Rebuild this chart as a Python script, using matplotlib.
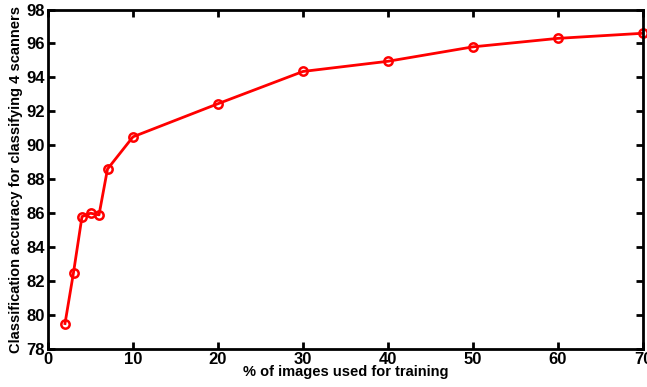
import matplotlib
matplotlib.use('Agg')
import matplotlib.pyplot as plt

# Training percentage vs accuracy
train_pct = [2, 3, 4, 5, 6, 7, 10, 20, 30, 40, 50, 60, 70]
accuracy = [79.5, 82.5, 85.8, 86.0, 85.9, 88.6, 90.5, 92.45, 94.35, 94.95, 95.8, 96.3, 96.6]

x_ticks = [0, 10, 20, 30, 40, 50, 60, 70]
y_ticks = [78, 80, 82, 84, 86, 88, 90, 92, 94, 96, 98]

plt.rcParams['font.family'] = ['Liberation Sans', 'DejaVu Sans']
plt.rcParams['font.weight'] = 'bold'

fig = plt.figure(figsize=(6.47, 3.87), dpi=100)
ax = fig.add_axes([48 / 647, 1 - 349 / 387, (643 - 48) / 647, (349 - 9.5) / 387])

ax.plot(train_pct, accuracy, color='red', linewidth=2, marker='o', markersize=6,
        markerfacecolor='none', markeredgecolor='red', markeredgewidth=1.8, clip_on=False)

ax.set_xlim(0, 70)
ax.set_ylim(78, 98)
ax.set_xticks(x_ticks)
ax.set_yticks(y_ticks)
ax.tick_params(direction='in', top=True, right=True, length=5, width=2, labelsize=12, pad=2)
for lbl in ax.get_xticklabels() + ax.get_yticklabels():
    lbl.set_fontweight('bold')
for s in ax.spines.values():
    s.set_linewidth(2)

ax.set_xlabel('% of images used for training', fontsize=10.5, fontweight='bold', labelpad=-1)
ax.set_ylabel('Classification accuracy for classifying 4 scanners', fontsize=10.5,
              fontweight='bold', labelpad=3)

fig.savefig('out.png', dpi=100)
